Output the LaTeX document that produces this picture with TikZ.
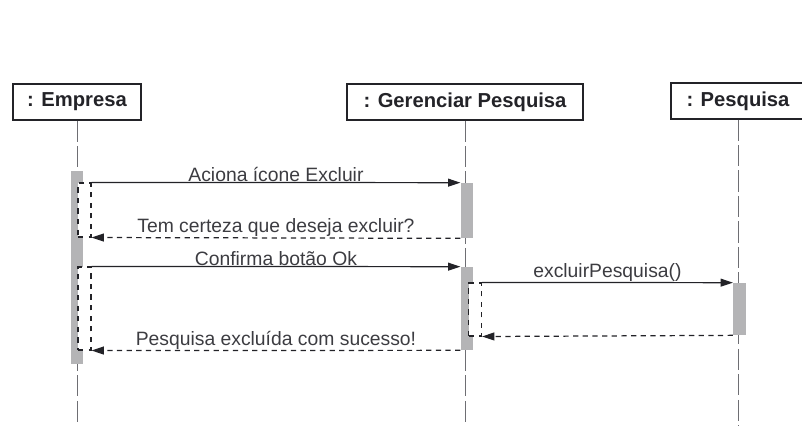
\documentclass[tikz,border=0pt]{standalone}
\usepackage{fontspec}
\setmainfont{Liberation Sans}
\usetikzlibrary{arrows.meta, positioning, calc}
\definecolor{InkDark}  {RGB}{ 35,  35,  40}
\definecolor{LabelInk} {RGB}{ 60,  60,  65}
\definecolor{BarGray}  {RGB}{180, 180, 182}
\definecolor{LifeGray} {RGB}{110, 110, 115}
\tikzset{
  % Object heads
  objhead/.style={
    rectangle, draw=InkDark, fill=white, line width=0.6pt,
    text=InkDark, font=\bfseries\fontsize{11.5}{13}\selectfont,
    minimum height=0.72cm, inner sep=3pt
  },
  % Activation bars
  actbar/.style={
    rectangle, fill=BarGray, draw=none, inner sep=0pt,
    minimum width=0.25cm
  },
  % Nested focus of control
  nestbar/.style={
    rectangle, fill=white, draw=InkDark, dashed, line width=0.6pt,
    inner sep=0pt, minimum width=0.26cm
  },
  % Lifelines
  lifeline/.style={
    draw=LifeGray, line width=0.5pt, dash pattern=on 12pt off 2.5pt
  },
  % Call arrow
  callmsg/.style={
    -{Triangle[length=7pt, width=4.5pt]}, line width=0.7pt, color=InkDark
  },
  % Reply arrow
  replymsg/.style={
    -{Triangle[length=7pt, width=4.5pt]}, line width=0.7pt, color=InkDark,
    dash pattern=on 3pt off 2.5pt
  },
  % Message label
  msglabel/.style={
    above, inner sep=0.3pt, text=LabelInk, font=\fontsize{11}{13}\selectfont
  }
}
\begin{document}
\begin{tikzpicture}[x=0.02cm, y=-0.02cm]
  \useasboundingbox (0,0) rectangle (802,426);

  % ── Object heads ─────────────────────────────────────────────────────────
  \node[objhead, minimum width=2.56cm] (empresa)   at (77,102)  {: Empresa};
  \node[objhead, minimum width=4.72cm] (gerenciar) at (465,102) {: Gerenciar Pesquisa};
  \node[objhead, minimum width=2.68cm] (pesquisa)  at (738,101) {: Pesquisa};
  \coordinate (bottom) at (0,426);

  % ── Lifelines ────────────────────────────────────────────────────────────
  \draw[lifeline] (empresa.south)   -- (empresa.south |- bottom);
  \draw[lifeline] (gerenciar.south) -- (gerenciar.south |- bottom);
  \draw[lifeline] (pesquisa.south)  -- (pesquisa.south |- bottom);

  % ── Activation bars ──────────────────────────────────────────────────────
  \node[actbar, minimum height=3.86cm] (ebar)  at (77,267.5)  {};
  \node[actbar, minimum height=1.10cm] (gbarA) at (467,210.5) {};
  \node[actbar, minimum height=1.66cm] (gbarB) at (467,308.5) {};
  \node[actbar, minimum height=1.04cm] (pbar)  at (739.5,309) {};

  % nested focus
  \node[nestbar, minimum height=1.08cm] (nestA) at (84.5,210)  {};
  \node[nestbar, minimum height=1.66cm] (nestB) at (84.5,308.5) {};
  \node[nestbar, minimum height=1.06cm] (nestC) at (475,309.5) {};

  % ── Messages ─────────────────────────────────────────────────────────────
  \draw[callmsg] (nestA.north east) -- (gbarA.north west)
        node[msglabel, midway] {Aciona ícone Excluir};
  \draw[replymsg] (gbarA.south west) -- (nestA.south east)
        node[msglabel, midway] {Tem certeza que deseja excluir?};
  \draw[callmsg] (nestB.north east) -- (gbarB.north west)
        node[msglabel, midway] {Confirma botão Ok};
  \draw[callmsg] (nestC.north east) -- (pbar.north west)
        node[msglabel, midway] {excluirPesquisa()};
  \draw[replymsg] (pbar.south west) -- (nestC.south east);
  \draw[replymsg] (gbarB.south west) -- (nestB.south east)
        node[msglabel, midway] {Pesquisa excluída com sucesso!};

\end{tikzpicture}
\end{document}
